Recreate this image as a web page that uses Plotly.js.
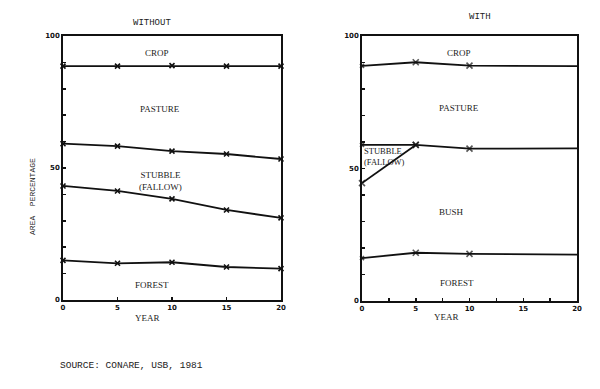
<!DOCTYPE html>
<html>
<head>
<meta charset="utf-8">
<script src="https://cdn.plot.ly/plotly-3.0.1.min.js"></script>
<style>html,body{margin:0;padding:0;background:#fff}#chart{width:600px;height:389px}</style>
</head>
<body>
<div id="chart"></div>
<script>
// Years
const yearsWithout = [0, 5, 10, 15, 20];
const yearsWith = [0, 5, 10, 20];
const yearsStubbleWith = [0, 5];

// "WITHOUT" panel: cumulative boundary lines (area percentage)
const woForestTop = [15.0, 13.9, 14.3, 12.5, 11.9];
const woLowerStubble = [43.2, 41.3, 38.3, 34.1, 31.1];
const woPastureBottom = [59.2, 58.3, 56.4, 55.3, 53.4];
const woCropBottom = [88.6, 88.6, 88.8, 88.6, 88.6];

// "WITH" panel: cumulative boundary lines (area percentage)
const wForestTop = [16.2, 18.2, 17.8, 17.5];
const wStubbleBottom = [44.5, 58.9];
const wPastureBottom = [58.9, 58.9, 57.5, 57.6];
const wCropBottom = [88.7, 90.1, 88.8, 88.6];
const wMarkerSizes = [4, 6, 6, 0];

const yTickVals = [0, 10, 20, 30, 40, 50, 60, 70, 80, 90, 100];
const yTickText = ['0', '', '', '', '', '50', '', '', '', '', '100'];
const xTickValsL = [0, 5, 10, 15, 20];
const xTickTextL = ['0', '5', '10', '15', '20'];
const xTickValsR = [0, 2.5, 5, 7.5, 10, 12.5, 15, 17.5, 20];
const xTickTextR = ['0', '', '5', '', '10', '', '15', '', '20'];

const lineStyle = {color: '#111', width: 1.8};
const mk = (size) => ({symbol: 'x-thin', size: size, color: '#111', line: {color: '#111', width: 1.6}});

function tr(x, y, xa, ya, mode, size) {
  return {x: x, y: y, xaxis: xa, yaxis: ya, mode: mode, type: 'scatter',
    line: lineStyle, marker: mk(size), cliponaxis: false, hoverinfo: 'skip', showlegend: false};
}

const data = [
  tr(yearsWithout, woForestTop, 'x', 'y', 'lines+markers', 5),
  tr(yearsWithout, woLowerStubble, 'x', 'y', 'lines+markers', 5),
  tr(yearsWithout, woPastureBottom, 'x', 'y', 'lines+markers', 5),
  tr(yearsWithout, woCropBottom, 'x', 'y', 'lines+markers', 5),
  tr(yearsWith, wForestTop, 'x2', 'y2', 'lines+markers', wMarkerSizes),
  tr(yearsStubbleWith, wStubbleBottom, 'x2', 'y2', 'lines+markers', [6, 6]),
  tr(yearsWith, wPastureBottom, 'x2', 'y2', 'lines+markers', wMarkerSizes),
  tr(yearsWith, wCropBottom, 'x2', 'y2', 'lines+markers', wMarkerSizes)
];

const tickFont = {family: 'DejaVu Sans, sans-serif', size: 7, color: '#111', weight: 'bold'};
const axBase = {showgrid: false, zeroline: false, showline: true, mirror: true,
  linecolor: '#111', linewidth: 1.8, ticks: 'inside', ticklen: 3, tickwidth: 1.5,
  tickcolor: '#111', tickfont: tickFont, fixedrange: true};

const serif = {family: 'Liberation Serif, DejaVu Serif, serif', size: 9, color: '#222'};
const mono = {family: 'Liberation Mono, DejaVu Sans Mono, monospace', size: 9, color: '#222'};

function lab(text, x, y, xref, yref, font, extra) {
  return Object.assign({text: text, x: x, y: y, xref: xref, yref: yref, showarrow: false,
    font: font, xanchor: 'center', yanchor: 'middle'}, extra || {});
}

const annotations = [
  lab('CROP', 8.6, 93.6, 'x', 'y', serif),
  lab('PASTURE', 8.9, 72.3, 'x', 'y', serif),
  lab('STUBBLE<br>(FALLOW)', 8.9, 45.0, 'x', 'y', serif),
  lab('FOREST', 8.2, 5.7, 'x', 'y', serif),
  lab('CROP', 9.0, 93.7, 'x2', 'y2', serif),
  lab('PASTURE', 9.0, 72.8, 'x2', 'y2', serif),
  lab('STUBBLE<br>(FALLOW)', 0.0, 54.4, 'x2', 'y2', Object.assign({}, serif, {size: 8.5}), {xanchor: 'left', align: 'left'}),
  lab('BUSH', 8.3, 33.7, 'x2', 'y2', serif),
  lab('FOREST', 8.8, 6.7, 'x2', 'y2', serif),
  lab('YEAR', 147, 318, 'paper', 'paper', serif),
  lab('YEAR', 446, 317, 'paper', 'paper', serif),
  lab('WITHOUT', 152, 23, 'paper', 'paper', mono),
  lab('WITH', 480, 17, 'paper', 'paper', mono),
  lab('AREA  PERCENTAGE', 32, 197, 'paper', 'paper', Object.assign({}, mono, {size: 8}), {textangle: -90}),
  lab('SOURCE: CONARE, USB, 1981', 58, 365, 'paper', 'paper', Object.assign({}, mono, {size: 9.5}), {xanchor: 'left'})
];
// convert pixel paper coords to fractions
annotations.forEach(a => {
  if (a.xref === 'paper') { a.x = a.x / 600; a.y = 1 - a.y / 389; }
});

const layout = {
  width: 600, height: 389,
  margin: {l: 0, r: 0, t: 0, b: 0},
  paper_bgcolor: '#fff', plot_bgcolor: '#fff',
  showlegend: false,
  xaxis: Object.assign({}, axBase, {domain: [63 / 600, 281 / 600], range: [0, 20], tickvals: xTickValsL, ticktext: xTickTextL, anchor: 'y'}),
  yaxis: Object.assign({}, axBase, {domain: [1 - 300 / 389, 1 - 36 / 389], range: [0, 100], tickvals: yTickVals, ticktext: yTickText, anchor: 'x'}),
  xaxis2: Object.assign({}, axBase, {domain: [362 / 600, 577 / 600], range: [0, 20], tickvals: xTickValsR, ticktext: xTickTextR, anchor: 'y2'}),
  yaxis2: Object.assign({}, axBase, {domain: [1 - 301 / 389, 1 - 36 / 389], range: [0, 100], tickvals: yTickVals, ticktext: yTickText, anchor: 'x2'}),
  annotations: annotations
};

Plotly.newPlot('chart', data, layout, {displayModeBar: false, staticPlot: true});
</script>
</body>
</html>
